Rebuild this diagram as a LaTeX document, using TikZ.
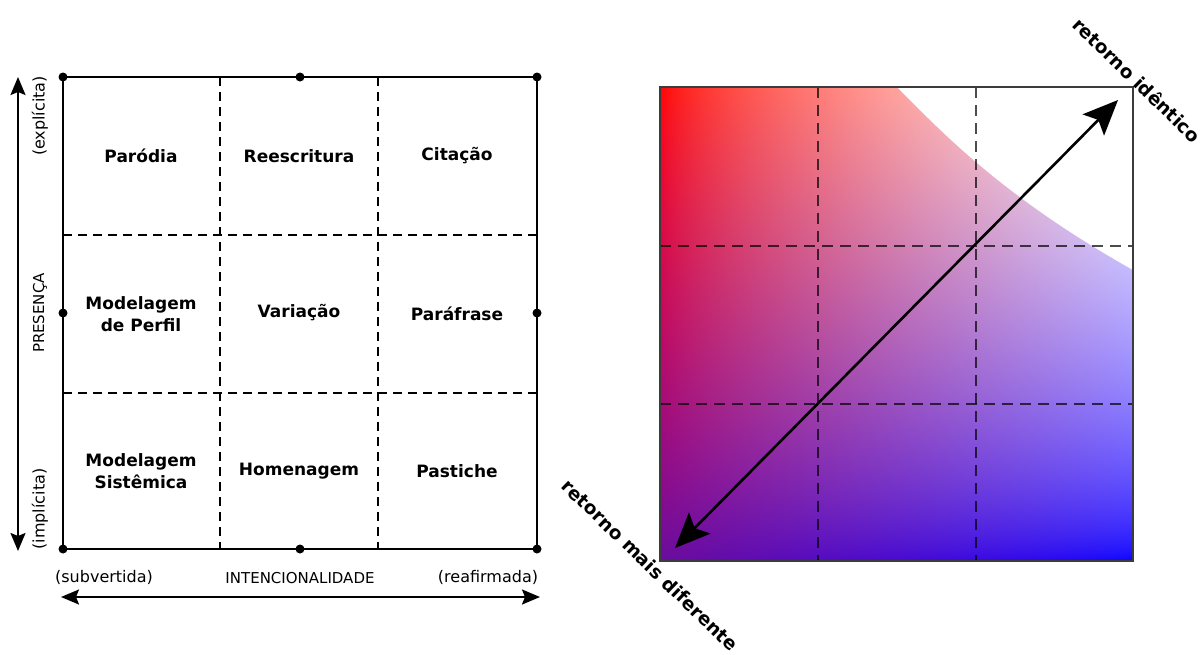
\documentclass[tikz,border=0pt]{standalone}
\usepackage{fontspec}
\setmainfont{DejaVu Sans}
\usetikzlibrary{arrows.meta,shadings}
\definecolor{framegray}{RGB}{60,60,60}
\pgfdeclarefunctionalshading{refgrad}{\pgfpoint{-50bp}{-50bp}}{\pgfpoint{50bp}{50bp}}{}{
  25 add 50 div exch 25 add 50 div exch
  2 copy 1 exch sub exch 1 exch sub mul
  1 index 1 index 0.2 mul add
  3 index 3 index mul 2 index 0.01 mul add
  4 index 3 index 0.5 mul add
  abs 0.7 exp 3 1 roll abs 0.65 exp 3 1 roll abs 0.55 exp 3 1 roll
  6 3 roll pop pop pop
}
\begin{document}
\begin{tikzpicture}[x=1pt,y=-1pt,
  cell/.style={font=\bfseries\fontsize{17}{22}\selectfont, align=center, inner sep=0pt},
  axlab/.style={font=\fontsize{16}{19}\selectfont, inner sep=0pt},
  caplab/.style={font=\fontsize{15}{18}\selectfont, inner sep=0pt},
  dot/.style={circle, fill=black, inner sep=0pt, minimum size=9pt},
  gframe/.style={line width=1.5pt},
  gdash/.style={line width=1.1pt, dash pattern=on 9pt off 6pt},
  axarrow/.style={line width=2pt, {Stealth[length=18pt,width=15pt,inset=3pt]}-{Stealth[length=18pt,width=15pt,inset=3pt]}},
  cdash/.style={line width=1.4pt, black, opacity=0.7, dash pattern=on 11pt off 7pt},
  diag/.style={line width=2.6pt, {Stealth[length=35pt,width=30pt,inset=7pt]}-{Stealth[length=35pt,width=30pt,inset=7pt]}},
  dlab/.style={font=\bfseries\fontsize{18.5}{22}\selectfont, rotate=-44, inner sep=0pt}]
\useasboundingbox (0,0) rectangle (1201,654);

% ---------- left grid ----------
\coordinate (v1t) at (220,77); \coordinate (v1b) at (220,549);
\coordinate (v2t) at (378,77); \coordinate (v2b) at (378,549);
\coordinate (h1l) at (63,235); \coordinate (h1r) at (537,235);
\coordinate (h2l) at (63,393); \coordinate (h2r) at (537,393);
\draw[gdash] (v1t) -- (v1b);
\draw[gdash] (v2t) -- (v2b);
\draw[gdash] (h1l) -- (h1r);
\draw[gdash] (h2l) -- (h2r);

\node[dot] (tl) at (63,77) {};
\node[dot] (tm) at (300,77) {};
\node[dot] (tr) at (537,77) {};
\node[dot] (ml) at (63,313) {};
\node[dot] (mr) at (537,313) {};
\node[dot] (bl) at (63,549) {};
\node[dot] (bm) at (300,549) {};
\node[dot] (br) at (537,549) {};
\draw[gframe] (tl.center) -- (tm.center) -- (tr.center) -- (mr.center) -- (br.center) -- (bm.center) -- (bl.center) -- (ml.center) -- cycle;

\node[cell] (c11) at (141,156) {Paródia};
\node[cell] (c12) at (299,156) {Reescritura};
\node[cell] (c13) at (457,156) {Citação};
\node[cell] (c21) at (141,314) {Modelagem\\de Perfil};
\node[cell] (c22) at (299,313) {Variação};
\node[cell] (c23) at (457,314) {Paráfrase};
\node[cell] (c31) at (141,471) {Modelagem\\Sistêmica};
\node[cell] (c32) at (299,471) {Homenagem};
\node[cell] (c33) at (457,471) {Pastiche};

% vertical axis
\coordinate (va) at (18,77); \coordinate (vb) at (18,551);
\draw[axarrow] (vb) -- (va);
\node[axlab, rotate=90] (expl) at (40,116) {(explícita)};
\node[caplab, rotate=90] (pres) at (40,313) {PRESENÇA};
\node[axlab, rotate=90] (impl) at (40,509) {(implícita)};

% horizontal axis
\coordinate (ha) at (61,597); \coordinate (hb) at (540,597);
\draw[axarrow] (ha) -- (hb);
\node[axlab] (subv) at (104,577) {(subvertida)};
\node[caplab] (intc) at (300,578) {INTENCIONALIDADE};
\node[axlab] (reaf) at (488,577) {(reafirmada)};

% ---------- right panel ----------
\shade[shading=refgrad] (660,87) rectangle (1133,561);
\fill[white] (897,87) .. controls (940,130) and (1000,195) .. (1133,270) -- (1133,87) -- cycle;
\draw[cdash] (818,87) -- (818,561);
\draw[cdash] (976,87) -- (976,561);
\draw[cdash] (660,246) -- (1133,246);
\draw[cdash] (660,404) -- (1133,404);
\node[draw=framegray, line width=1.4pt, minimum width=473pt, minimum height=474pt, inner sep=0pt] (box) at (896.5,324) {};

\coordinate (lo) at (675,548);
\coordinate (hi) at (1118,100);
\draw[diag] (lo) -- (hi);

\node[dlab] (lab1) at (1137,80) {retorno idêntico};
\node[dlab] (lab2) at (650,565) {retorno mais diferente};
\end{tikzpicture}
\end{document}
